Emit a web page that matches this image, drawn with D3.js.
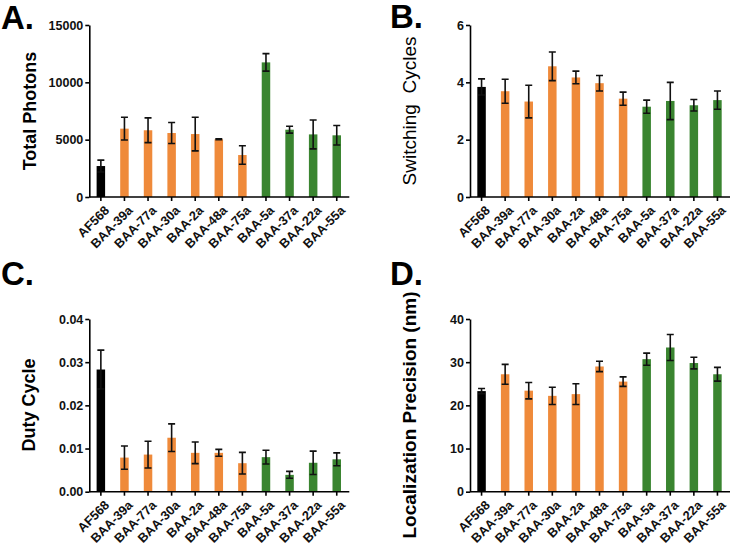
<!DOCTYPE html>
<html>
  <head>
    <meta charset="utf-8">
    <style type="text/css">
      body { margin: 0; background: #fff; }
      svg { font-family: Arial, "Liberation Sans", sans-serif; }
      .axis path, .axis line { stroke: #000; stroke-width: 1.6px; }
      .axis text { font-size: 12.5px; font-weight: bold; fill: #111; }
      .err { stroke: #111; stroke-width: 1.6px; fill: none; }
    </style>
  </head>
  <body>
    <script src="https://d3js.org/d3.v7.min.js"></script>
    <script>
      // dyes, in plot order
      var dyes = ["AF568", "BAA-39a", "BAA-77a", "BAA-30a", "BAA-2a", "BAA-48a",
                  "BAA-75a", "BAA-5a", "BAA-37a", "BAA-22a", "BAA-55a"];
      var groups = ["ref", "orange", "orange", "orange", "orange", "orange",
                    "orange", "green", "green", "green", "green"];

      // A. total photons (mean, sd)
      var photons = [2700, 5960, 5820, 5580, 5490, 5030, 3660, 11740, 5870, 5460, 5380];
      var photonsErr = [520, 990, 1080, 920, 1470, 40, 810, 760, 300, 1260, 850];

      // B. switching cycles
      var cycles = [3.84, 3.69, 3.33, 4.56, 4.17, 3.97, 3.43, 3.15, 3.35, 3.20, 3.38];
      var cyclesErr = [0.28, 0.42, 0.57, 0.50, 0.22, 0.27, 0.23, 0.23, 0.65, 0.20, 0.32];

      // C. duty cycle
      var duty = [0.0283, 0.0079, 0.0086, 0.0125, 0.0090, 0.0090, 0.0066, 0.0080, 0.0039, 0.0067, 0.0075];
      var dutyErr = [0.0045, 0.0027, 0.0031, 0.0032, 0.0025, 0.0008, 0.0025, 0.0016, 0.0008, 0.0027, 0.0015];

      // D. localization precision (nm)
      var precision = [23.3, 27.2, 23.4, 22.2, 22.6, 29.0, 25.5, 30.7, 33.4, 29.8, 27.2];
      var precisionErr = [0.6, 2.3, 1.9, 2.0, 2.4, 1.2, 1.1, 1.4, 3.0, 1.35, 1.6];

      // tick labels
      var photonTicks = [0, 5000, 10000, 15000];
      var cycleTicks = [0, 2, 4, 6];
      var dutyTicks = [0, 0.01, 0.02, 0.03, 0.04];
      var precisionTicks = [0, 10, 20, 30, 40];

      var color = d3.scaleOrdinal()
          .domain(["ref", "orange", "green"])
          .range(["#000000", "#ef8a3a", "#3a8530"]);

      var width = 733;
      var height = 547;

      var svg = d3.select("body")
                  .append("svg")
                  .attr("width", width)
                  .attr("height", height);

      function panel(opts) {
        var g = svg.append("g");

        var x = d3.scaleBand()
            .domain(dyes)
            .range([opts.x0, opts.x0 + 259])
            .paddingInner(0.64)
            .paddingOuter(0.31);

        var y = d3.scaleLinear()
            .domain([0, opts.max])
            .range([opts.y0, opts.y1]);

        // bars
        g.selectAll("rect.bar")
          .data(opts.values)
          .enter()
          .append("rect")
          .attr("class", "bar")
          .attr("x", function(d, i) { return x(dyes[i]); })
          .attr("width", x.bandwidth())
          .attr("y", function(d) { return y(d); })
          .attr("height", function(d) { return y(0) - y(d); })
          .style("fill", function(d, i) { return color(groups[i]); });

        // error bars (mean +/- sd)
        var cap = 3.5;
        var err = g.selectAll("g.err")
          .data(opts.values)
          .enter()
          .append("g");

        err.append("path")
          .attr("class", "err")
          .attr("d", function(d, i) {
            var cx = x(dyes[i]) + x.bandwidth() / 2;
            var hi = y(d + opts.errors[i]);
            var lo = y(Math.max(0, d - opts.errors[i]));
            return "M" + cx + "," + lo + "V" + hi +
                   "M" + (cx - cap) + "," + hi + "H" + (cx + cap) +
                   "M" + (cx - cap) + "," + lo + "H" + (cx + cap);
          });

        // y axis
        g.append("g")
          .attr("class", "axis")
          .attr("transform", "translate(" + opts.x0 + ",0)")
          .call(d3.axisLeft(y).tickValues(opts.ticks).tickFormat(opts.format)
                  .tickSize(4).tickSizeOuter(0).tickPadding(2));

        // x axis
        var xa = g.append("g")
          .attr("class", "axis")
          .attr("transform", "translate(0," + opts.y0 + ")")
          .call(d3.axisBottom(x).tickSize(4).tickSizeOuter(0));

        xa.select(".domain").attr("d", "M" + opts.x0 + ",0H" + (opts.x0 + 260));

        xa.selectAll("text")
          .style("font-size", "12.8px")
          .attr("text-anchor", "end")
          .attr("x", 0)
          .attr("y", 0)
          .attr("dy", "0.35em")
          .attr("transform", "translate(6,11) rotate(-45)");

        // axis title
        g.append("text")
          .attr("transform", "translate(" + opts.tx + "," + opts.ty + ") rotate(-90)")
          .attr("text-anchor", "middle")
          .attr("xml:space", "preserve")
          .style("white-space", "pre")
          .style("font-size", opts.titleSize)
          .style("font-weight", opts.titleWeight)
          .text(opts.title);

        // panel letter
        g.append("text")
          .attr("x", opts.lx)
          .attr("y", opts.ly)
          .style("font-size", "33px")
          .style("font-weight", "bold")
          .text(opts.letter);
      }

      panel({
        values: photons, errors: photonsErr, max: 15000, ticks: photonTicks,
        format: d3.format("d"),
        x0: 89.3, y0: 197, y1: 25,
        title: "Total Photons", titleSize: "18px", titleWeight: "bold", tx: 36, ty: 111,
        letter: "A.", lx: 1, ly: 29
      });

      panel({
        values: cycles, errors: cyclesErr, max: 6, ticks: cycleTicks,
        format: d3.format("d"),
        x0: 470, y0: 197, y1: 25,
        title: "Switching  Cycles", titleSize: "19px", titleWeight: "normal", tx: 416, ty: 111,
        letter: "B.", lx: 390, ly: 28
      });

      panel({
        values: duty, errors: dutyErr, max: 0.04, ticks: dutyTicks,
        format: d3.format(".2f"),
        x0: 89.3, y0: 491.7, y1: 319,
        title: "Duty Cycle", titleSize: "18px", titleWeight: "bold", tx: 35, ty: 405,
        letter: "C.", lx: 1, ly: 285
      });

      panel({
        values: precision, errors: precisionErr, max: 40, ticks: precisionTicks,
        format: d3.format("d"),
        x0: 470, y0: 491.7, y1: 319,
        title: "Localization Precision (nm)", titleSize: "19px", titleWeight: "bold", tx: 416, ty: 415,
        letter: "D.", lx: 390, ly: 285
      });
    </script>
  </body>
</html>
